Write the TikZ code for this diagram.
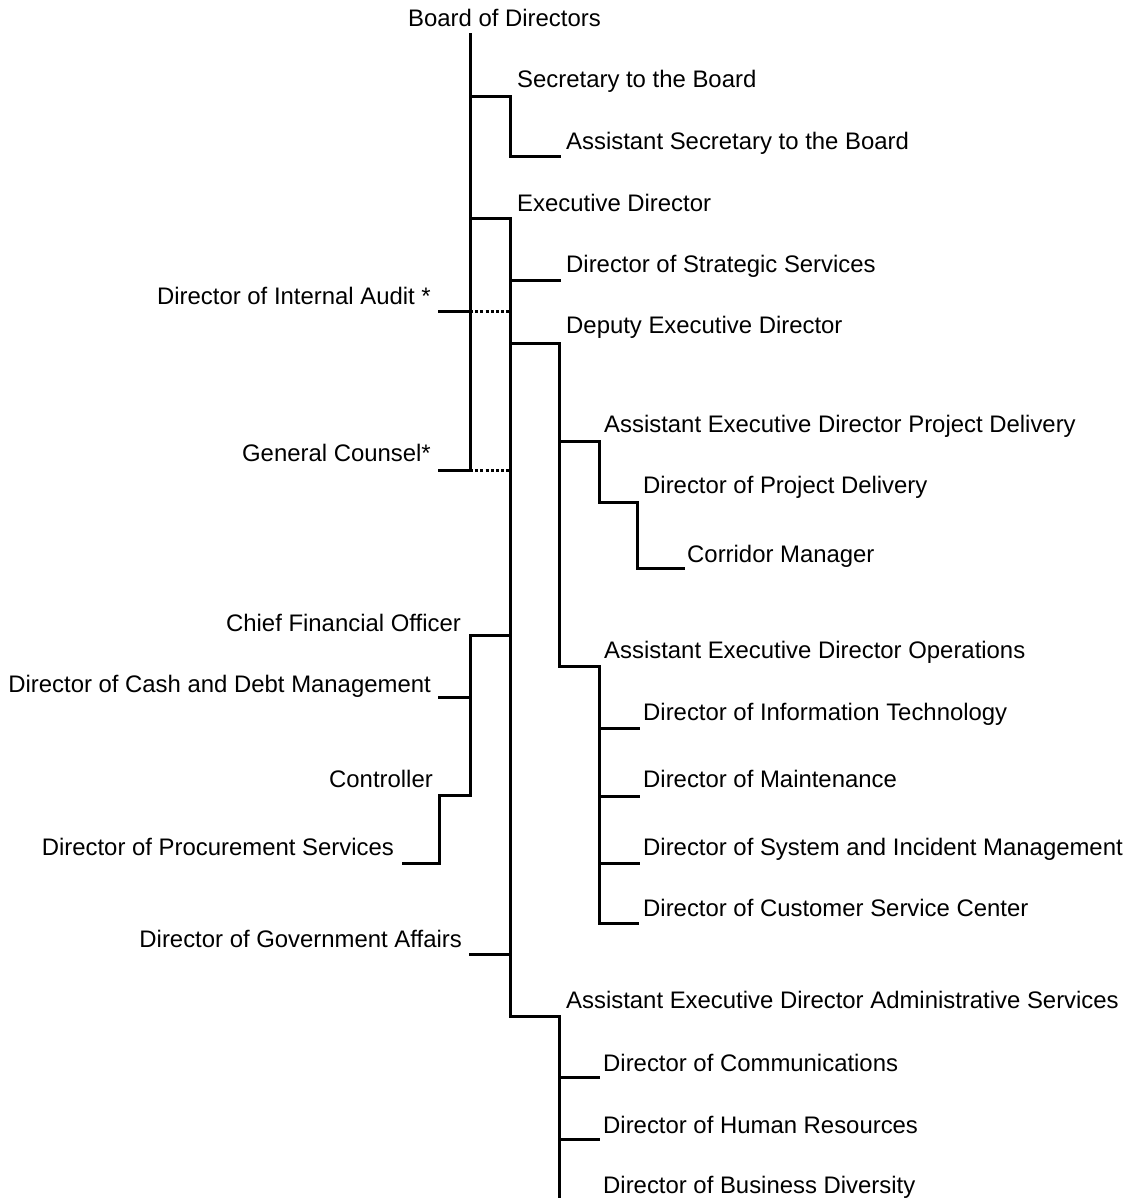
\documentclass[tikz,border=0pt]{standalone}
\usepackage{fontspec}
\setmainfont{Liberation Sans}
\begin{document}
\begin{tikzpicture}[x=1pt,y=-1pt,
  lbl/.style={inner sep=0pt,font=\fontsize{23.9}{28}\selectfont},
  lft/.style={lbl,anchor=base west},
  rgt/.style={lbl,anchor=base east},
  conn/.style={line width=3pt,line cap=rect,line join=miter},
  dotline/.style={line width=3pt,dash pattern=on 3pt off 2.2pt}]
\useasboundingbox (0,0) rectangle (1131,1198);
% labels
\node[lft] (bod) at (408,27) {Board of Directors};
\node[lft] (sec) at (517,88) {Secretary to the Board};
\node[lft] (asec) at (566,150) {Assistant Secretary to the Board};
\node[lft] (ed) at (517,212) {Executive Director};
\node[lft] (dss) at (566,272) {Director of Strategic Services};
\node[rgt] (dia) at (431,304) {Director of Internal Audit *};
\node[lft] (ded) at (566,333) {Deputy Executive Director};
\node[lft] (aedpd) at (604,432) {Assistant Executive Director Project Delivery};
\node[rgt] (gc) at (431,461) {General Counsel*};
\node[lft] (dpd) at (643,493) {Director of Project Delivery};
\node[lft] (cm) at (687,562) {Corridor Manager};
\node[rgt] (cfo) at (461,631) {Chief Financial Officer};
\node[lft] (aedo) at (604,658) {Assistant Executive Director Operations};
\node[rgt] (cdm) at (431,692) {Director of Cash and Debt Management};
\node[lft] (dit) at (643,720) {Director of Information Technology};
\node[rgt] (ctl) at (433,787) {Controller};
\node[lft] (dm) at (643,787) {Director of Maintenance};
\node[rgt] (dps) at (394,855) {Director of Procurement Services};
\node[lft] (dsim) at (643,855) {Director of System and Incident Management};
\node[lft] (dcsc) at (643,916) {Director of Customer Service Center};
\node[rgt] (dga) at (462,947) {Director of Government Affairs};
\node[lft] (aeda) at (566,1008) {Assistant Executive Director Administrative Services};
\node[lft] (dc) at (603,1071) {Director of Communications};
\node[lft] (dhr) at (603,1133) {Director of Human Resources};
\node[lft] (dbd) at (603,1193) {Director of Business Diversity};
% junction coordinates
\coordinate (b0) at (470,35);
\coordinate (bsec) at (470,97);
\coordinate (bed) at (470,219);
\coordinate (bia) at (470,311);
\coordinate (bgc) at (470,470);
\coordinate (ia0) at (439,311);
\coordinate (gc0) at (439,470);
\coordinate (eia) at (510,311);
\coordinate (egc) at (510,470);
\coordinate (s1) at (510,97);
\coordinate (s2) at (510,157);
\coordinate (s3) at (559,157);
\coordinate (e1) at (510,219);
\coordinate (e2) at (510,1016);
\coordinate (e3) at (559,1016);
\coordinate (e4) at (559,1200);
\coordinate (ss0) at (510,280);
\coordinate (ss1) at (559,280);
\coordinate (d0) at (510,343);
\coordinate (d1) at (559,343);
\coordinate (d2) at (559,666);
\coordinate (d3) at (599,666);
\coordinate (d4) at (599,923);
\coordinate (d5) at (637,923);
\coordinate (p0) at (559,441);
\coordinate (p1) at (599,441);
\coordinate (p2) at (599,502);
\coordinate (p3) at (637,502);
\coordinate (p4) at (637,568);
\coordinate (p5) at (683,568);
\coordinate (o1a) at (599,728);
\coordinate (o1b) at (638,728);
\coordinate (o2a) at (599,796);
\coordinate (o2b) at (638,796);
\coordinate (o3a) at (599,863);
\coordinate (o3b) at (638,863);
\coordinate (f0) at (510,635);
\coordinate (f1) at (470,635);
\coordinate (f2) at (470,795);
\coordinate (f3) at (439,795);
\coordinate (f4) at (439,863);
\coordinate (f5) at (403,863);
\coordinate (cd0) at (470,697);
\coordinate (cd1) at (439,697);
\coordinate (g0) at (510,954);
\coordinate (g1) at (470,954);
\coordinate (a1a) at (559,1077);
\coordinate (a1b) at (598,1077);
\coordinate (a2a) at (559,1139);
\coordinate (a2b) at (598,1139);
% connectors
\draw[conn] (b0) -- (bgc);
\draw[conn] (bsec) -- (s1) -- (s2) -- (s3);
\draw[conn] (bed) -- (e1) -- (e2) -- (e3) -- (e4);
\draw[conn] (ia0) -- (bia);
\draw[conn] (gc0) -- (bgc);
\draw[dotline] (bia) -- (eia);
\draw[dotline] (bgc) -- (egc);
\draw[conn] (ss0) -- (ss1);
\draw[conn] (d0) -- (d1) -- (d2) -- (d3) -- (d4) -- (d5);
\draw[conn] (p0) -- (p1) -- (p2) -- (p3) -- (p4) -- (p5);
\draw[conn] (o1a) -- (o1b);
\draw[conn] (o2a) -- (o2b);
\draw[conn] (o3a) -- (o3b);
\draw[conn] (f0) -- (f1) -- (f2) -- (f3) -- (f4) -- (f5);
\draw[conn] (cd0) -- (cd1);
\draw[conn] (g0) -- (g1);
\draw[conn] (a1a) -- (a1b);
\draw[conn] (a2a) -- (a2b);
\end{tikzpicture}
\end{document}
